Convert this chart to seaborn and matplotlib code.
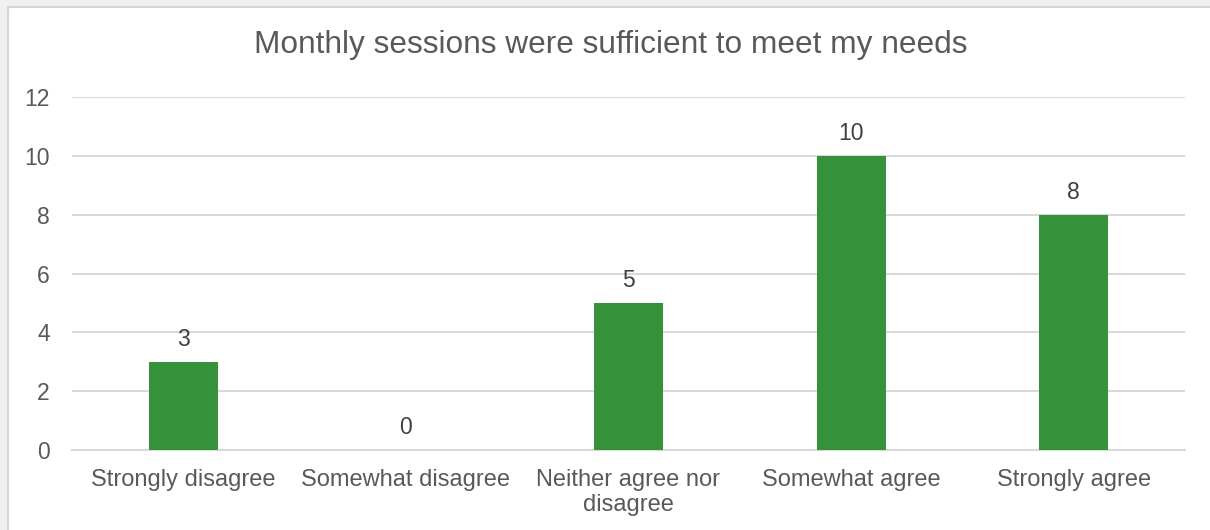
import matplotlib
matplotlib.use("Agg")
import matplotlib.pyplot as plt
from matplotlib.patches import Rectangle
import seaborn as sns
import pandas as pd

categories = ["Strongly disagree", "Somewhat disagree", "Neither agree nor\ndisagree",
              "Somewhat agree", "Strongly agree"]
counts = [3, 0, 5, 10, 8]
title = "Monthly sessions were sufficient to meet my needs"

sns.set_theme(style="white")
plt.rcParams["font.family"] = ["Liberation Sans", "DejaVu Sans"]

W, H = 1210, 530
fig = plt.figure(figsize=(W / 100, H / 100), dpi=100, facecolor="#f0f0f0")

# white chart card with a thin grey border
fig.patches.append(Rectangle((8 / W, -0.01), 1.0, 1 - 7 / H + 0.01,
                             transform=fig.transFigure, facecolor="white",
                             edgecolor="#d6d6d6", linewidth=1.5, zorder=-5))

ax = fig.add_axes([72 / W, 1 - 450 / H, (1185 - 72) / W, (450 - 97) / H])
ax.set_facecolor("none")

df = pd.DataFrame({"category": categories, "count": counts})
sns.barplot(data=df, x="category", y="count", color="#35923a", width=0.31,
            saturation=1, linewidth=0, ax=ax, zorder=3)

ax.set_ylim(0, 12)
ax.set_yticks(range(0, 13, 2))
ax.set_xlim(-0.5, len(categories) - 0.5)
ax.yaxis.grid(True, color="#d9d9d9", linewidth=1.5, zorder=0)
ax.set_axisbelow(True)
for side in ["top", "right", "left"]:
    ax.spines[side].set_visible(False)
ax.spines["bottom"].set_color("#d9d9d9")
ax.spines["bottom"].set_linewidth(1.5)
ax.tick_params(axis="y", length=0, labelsize=16.5, labelcolor="#595959", pad=16)
ax.tick_params(axis="x", length=0, labelsize=17, labelcolor="#595959", pad=14)
for lbl in ax.get_xticklabels():
    lbl.set_linespacing(1.15)
ax.set_xlabel("")
ax.set_ylabel("")

for container in ax.containers:
    ax.bar_label(container, labels=[str(v) for v in counts], padding=8,
                 fontsize=16.5, color="#404040")

fig.text(611 / W, 1 - 45 / H, title, ha="center", va="center",
         fontsize=22.8, color="#595959")

fig.savefig("out.png", dpi=100, facecolor=fig.get_facecolor())
